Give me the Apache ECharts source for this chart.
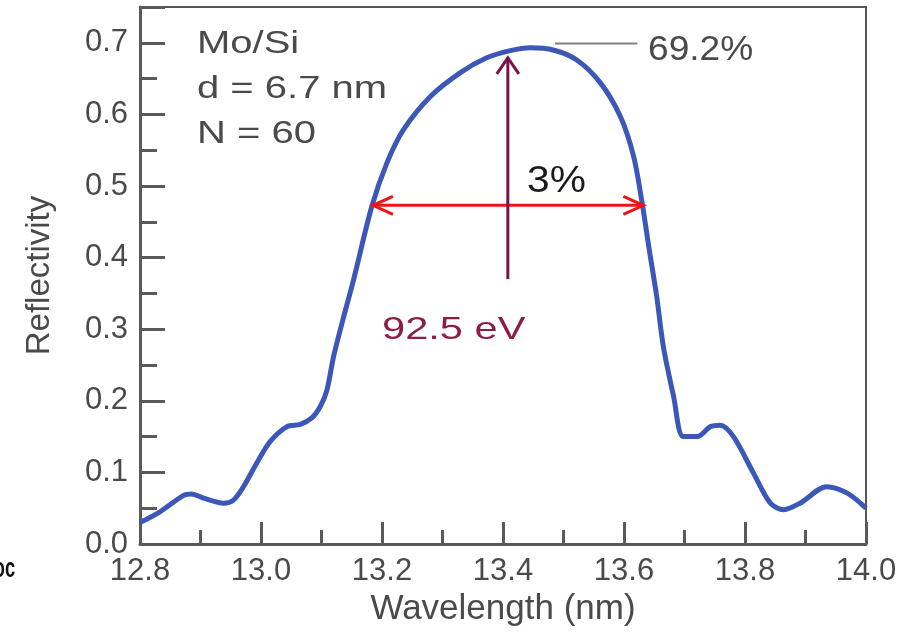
<!DOCTYPE html>
<html lang="en">
<head>
    <meta charset="UTF-8">
    <title>Mo/Si reflectivity</title>
    <script src="https://cdn.jsdelivr.net/npm/echarts@6/dist/echarts.min.js"></script>
    <style>
        html, body { margin: 0; padding: 0; background: #fff; }
        #main { width: 907px; height: 637px; }
    </style>
</head>
<body>
    <div id="main"></div>
<script>
    // data
    var wavelength = [12.800, 12.833, 12.872, 12.885, 12.905, 12.938, 12.954, 12.971, 12.993, 13.015,
        13.043, 13.065, 13.084, 13.098, 13.109, 13.120, 13.135, 13.153, 13.183, 13.208,
        13.235, 13.280, 13.329, 13.373, 13.412, 13.445, 13.483, 13.522, 13.561, 13.594,
        13.616, 13.630, 13.641, 13.654, 13.665, 13.682, 13.698, 13.721, 13.743, 13.759,
        13.781, 13.814, 13.842, 13.864, 13.891, 13.935, 13.969, 14.000];
    var reflectivity = [0.030, 0.045, 0.068, 0.070, 0.064, 0.057, 0.061, 0.080, 0.113, 0.143,
        0.164, 0.167, 0.176, 0.192, 0.215, 0.262, 0.312, 0.369, 0.471, 0.532,
        0.578, 0.625, 0.658, 0.679, 0.689, 0.693, 0.690, 0.676, 0.644, 0.597,
        0.541, 0.476, 0.415, 0.346, 0.276, 0.206, 0.150, 0.150, 0.164, 0.166,
        0.150, 0.099, 0.057, 0.048, 0.057, 0.080, 0.071, 0.050];

    var xTicks = [12.8, 13.0, 13.2, 13.4, 13.6, 13.8, 14.0];
    var yTicks = [0.0, 0.1, 0.2, 0.3, 0.4, 0.5, 0.6, 0.7];

    // annotations, in data units
    var peakArrow = [13.408, 0.370, 0.679];    // x, from, to
    var widthArrow = [13.185, 13.632, 0.473];  // from, to, y
    var peakLeader = [13.486, 13.622, 0.699];  // from, to, y

    var points = [];
    for (var i = 0; i < wavelength.length; i++) {
        points.push([wavelength[i], reflectivity[i]]);
    }

    var axisColor = '#5a5a5a';
    var textColor = '#4a4a4a';
    var font = '"Liberation Sans", Arial, sans-serif';

    var myChart = echarts.init(document.getElementById('main'));

    // text helper for the free labels
    function label(text, x, y, size, color, sx) {
        return {
            type: 'text', x: x, y: y, scaleX: sx, z: 10,
            style: {
                text: text, x: 0, y: 0, fill: color,
                font: size + 'px ' + font,
                textVerticalAlign: 'middle'
            }
        };
    }

    var option = {
        animation: false,
        backgroundColor: '#fff',
        grid: {
            left: 140, right: 41, top: 7, bottom: 93,
            show: true, borderColor: '#555', borderWidth: 2
        },
        xAxis: {
            type: 'value',
            min: xTicks[0], max: xTicks[xTicks.length - 1], interval: 0.2,
            name: 'Wavelength (nm)', nameLocation: 'middle', nameGap: 48,
            nameTextStyle: { fontFamily: font, fontSize: 35, color: textColor },
            axisLine: { lineStyle: { color: axisColor, width: 3 } },
            axisTick: { inside: true, length: 22, lineStyle: { color: axisColor, width: 3 } },
            minorTick: { show: true, splitNumber: 2, length: 14, lineStyle: { color: axisColor, width: 3 } },
            splitLine: { show: false },
            axisLabel: {
                fontFamily: font, fontSize: 31, color: textColor, margin: 12,
                formatter: function (v) { return v.toFixed(1); }
            }
        },
        yAxis: [{
            type: 'value',
            min: 0, max: 0.75, interval: 0.1,
            name: 'Reflectivity', nameLocation: 'middle', nameGap: 84,
            nameTextStyle: { fontFamily: font, fontSize: 33, color: textColor },
            axisLine: { lineStyle: { color: axisColor, width: 3 } },
            axisTick: { inside: true, length: 25, lineStyle: { color: axisColor, width: 3 } },
            splitLine: { show: false },
            axisLabel: {
                fontFamily: font, fontSize: 31, color: textColor, margin: 12,
                formatter: function (v) {
                    return v > yTicks[yTicks.length - 1] + 0.01 ? '' : v.toFixed(1);
                }
            }
        }, {
            // only for the short half-step ticks
            type: 'value', position: 'left',
            min: 0, max: 0.75, interval: 0.05,
            axisLine: { show: false },
            axisTick: { inside: true, length: 17, lineStyle: { color: axisColor, width: 3 } },
            axisLabel: { show: false },
            splitLine: { show: false }
        }],
        graphic: [
            label('Mo/Si', 197, 44, 32, textColor, 1.25),
            label('d = 6.7 nm', 197, 89, 32, textColor, 1.25),
            label('N = 60', 197, 134, 32, textColor, 1.25),
            label('69.2%', 648, 50, 35, textColor, 1.06),
            label('3%', 527, 182, 37, '#1a1a1a', 1.1),
            label('92.5 eV', 382, 330, 32, '#8c1d48', 1.3),
            {
                type: 'text', x: 15, y: 569, scaleX: 0.65,
                style: { text: 'oc', fill: '#111', font: 'bold 28px ' + font,
                    textAlign: 'right', textVerticalAlign: 'middle' }
            }
        ],
        series: [
            {
                name: 'Reflectivity',
                type: 'line',
                yAxisIndex: 0,
                data: points,
                showSymbol: false,
                smooth: 0.3,
                z: 3,
                lineStyle: { color: '#3b58b8', width: 5 }
            },
            {
                type: 'custom',
                yAxisIndex: 0,
                data: [[0, 0]],
                silent: true,
                clip: false,
                z: 4,
                renderItem: function (params, api) {
                    var top = api.coord([peakArrow[0], peakArrow[2]]);
                    var bottom = api.coord([peakArrow[0], peakArrow[1]]);
                    var left = api.coord([widthArrow[0], widthArrow[2]]);
                    var right = api.coord([widthArrow[1], widthArrow[2]]);
                    var l1 = api.coord([peakLeader[0], peakLeader[2]]);
                    var l2 = api.coord([peakLeader[1], peakLeader[2]]);
                    var red = { stroke: '#ee1414', lineWidth: 3, fill: null };
                    var purple = { stroke: '#7a1248', lineWidth: 3, fill: null };
                    return {
                        type: 'group',
                        children: [
                            { type: 'polyline', shape: { points: [l1, l2] },
                                style: { stroke: '#808080', lineWidth: 2, fill: null } },
                            { type: 'polyline', shape: { points: [left, right] }, style: red },
                            { type: 'polyline', shape: { points: [[left[0] + 20, left[1] - 9], left, [left[0] + 20, left[1] + 9]] }, style: red },
                            { type: 'polyline', shape: { points: [[right[0] - 20, right[1] - 9], right, [right[0] - 20, right[1] + 9]] }, style: red },
                            { type: 'polyline', shape: { points: [bottom, top] }, style: purple },
                            { type: 'polyline', shape: { points: [[top[0] - 11, top[1] + 16], top, [top[0] + 11, top[1] + 16]] }, style: purple }
                        ]
                    };
                }
            }
        ]
    };
    myChart.setOption(option);
</script>
</body>
</html>
